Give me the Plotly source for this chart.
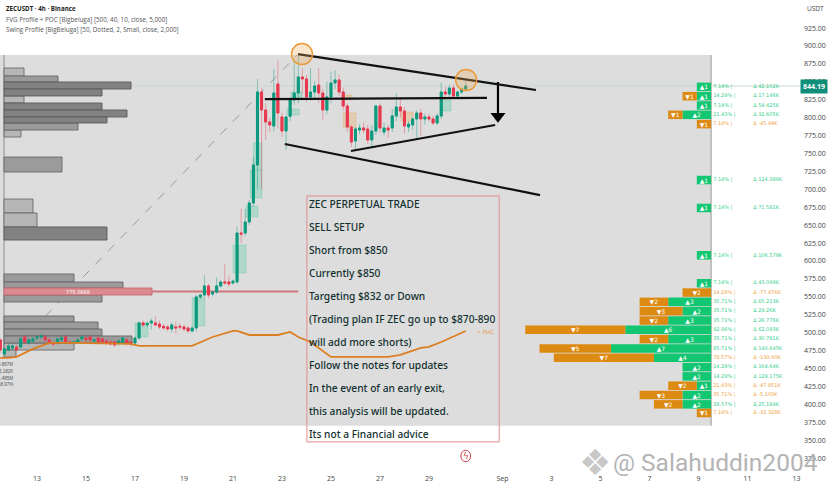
import plotly.graph_objects as go

# ---------- candles (index = 4h bars from 11 Aug 12:00) ----------
opens = [489.9,470.3,476,478.7,480,480,494,485.7,488.5,492.6,494,494,489.9,485.7,485.7,489.9,494,487,485.7,487,491.3,492.6,494,488.5,492.6,491.3,488.5,487,487,485.7,485.7,489.9,487,485.7,492.6,513.6,511,513.6,513.6,512,509,508,505.2,508,509,508,506.6,502.4,506.6,549.9,552.6,565.2,554,556.8,565.2,570.8,570.8,569.4,570.8,639.1,639.1,654.5,681,734,835.8,810.7,794,788.4,847,801,781.4,802,824.7,834.4,856.8,854,828.9,835.8,845.6,834.4,810.7,828.9,848.4,852.6,835.8,816.3,787,767.5,782.8,785.6,784.2,768.9,781.4,816.3,780,785.6,785.6,802.4,814.9,809.3,787,789.8,798.2,806.5,798.2,801,798.2,792.6,802.4,835.8,833,841.4,830.3,835.8,840]
highs = [492,479,484,484,483,494,497,493,494,497,499,498,493,488,493,495,496,489,489,492,497,496,497,492,495,494,491,489,490,490,494,493,489,494,516,517,516,520,523,517,512,511,514,516,513,511,509,509,553,554,580,568,558,577,573,596,580,574,648,673,673,685,745,854,842,820,800,868,880,807,801,826,880,887,869,860,869,851,869,840,850,864,866,860,842,820,790,787,791,793,790,790,818,820,793,790,812,834,828,815,795,800,810,812,806,806,803,806,849,843,846,846,838,842,852]
lows = [472,468,474,476,474,478,485,483,486,490,491,487,483,481,483,487,485,483,483,485,488,486,486,486,485,485,483,482,480,482,483,482,480,483,490,508,508,504,509,505,504,502,500,499,504,502,500,500,502,547,549,548,551,554,563,567,564,567,568,625,635,650,676,700,700,769,780,781,785,773,755,795,818,820,833,821.9,824,827,821,796.8,805,820,840,830,810,780,759,755,777,778,763,758,776,779,775,772,780,795,800,778,780,783,772,775,790,795,790,790,798,828,828,826,826,833,838]
closes = [475.9,477.3,481.5,481.5,476,491.3,487,489.9,491.3,494,495.4,489.9,485.7,484.3,491.3,492.6,487,485.7,487,489.9,494,489.9,489.9,489.9,487,487,485.7,484.3,482.9,488.5,492.6,485.7,484.3,492.6,513.6,510.8,513,516.3,510.8,508,506.6,505.2,510.8,506.6,508,505.2,502.4,506.6,549.9,552.6,565.2,552.6,556.8,565.2,570.8,569.4,568,572,639.1,637.7,654.5,681,734,835.8,810.7,794,789.8,834.4,806.5,781.4,801,824.7,834.4,856.8,854,828.9,835.8,844.2,834.4,810.7,828.9,848.4,852.6,835.8,816.3,787,766.1,784.2,785.6,782.8,768.9,781.4,816.3,785.6,785.6,782.8,802.4,814.9,809.3,788.4,791.2,798.2,806.5,798.2,801,798.2,792.6,802.4,835.8,833,841.4,830.3,835.8,840,844.19]
last_price = 844.19

# ---------- axis labels ----------
date_bars = [9,21,33,45,57,69,81,93,105,123,135,147,159,171,183,195]
date_labels = ["13","15","17","19","21","23","25","27","29","Sep","3","5","7","9","11","13"]
price_ticks = list(range(325, 950, 25))

# ---------- right hand profile ----------
row_price = [843,830,817,804,791,713,674,608,569,556,543,530,517,504,491,478,465,452,439,426,413,400,388]
row_up =    [1,1,1,2,0,1,1,1,1,0,3,2,3,6,3,7,4,2,2,1,2,2,0]
row_down =  [0,1,0,1,1,0,0,0,0,2,2,3,2,7,2,5,7,0,0,2,3,2,1]
row_pct = ["7.14%","14.29%","7.14%","21.43%","7.14%","7.14%","7.14%","7.14%","7.14%","14.29%","35.71%","35.71%","35.71%","92.86%","35.71%","85.71%","78.57%","14.29%","14.29%","21.43%","35.71%","28.57%","7.14%"]
row_delta = ["42.102K","17.146K","54.425K","32.605K","-45.49K","124.386K","71.581K","106.578K","43.099K","-77.476K","65.213K","29.26K","26.776K","62.093K","30.781K","140.645K","-139.00K","164.64K","129.175K","-47.851K","-5.103K","25.184K","-32.328K"]

# ---------- left hand profile: top price, bottom price, volume ----------
dark_top = [849.8,840,820.5,810.7,800.9,647.5]
dark_bot = [840,830.3,810.7,800.9,792.6,629.3]
dark_vol = [127,98,98,123,103,103]
mid_top = [858.1,792.6,745.1,581.9,570.7,552.6,523.3,514.9,505.1,495.4]
mid_bot = [849.8,782.8,724.2,570.7,562.3,542.8,514.9,505.1,495.4,485.6]
mid_vol = [54,74,58,70,119,98,70,94,98,128]
light_top = [869.3,830.2,782.8,686.5,667,485.6,475.8]
light_bot = [858.1,820.5,773,667,647.5,475.8,466.1]
light_vol = [20,20,17,29,33,70,12]
poc_top = [562.3]
poc_bot = [552.6]
poc_vol = [148]

# ---------- PoC line ----------
poc_bars = [0,2,4,6,8,12,18,32,34,47,52,57,58,61,68,71,73,76,81,95,98,103,105,108,114]
poc_line = [464.8,464.8,466.2,471.7,477.3,485.7,485.7,484.3,481.5,481.5,494,502.4,502.4,496.8,496.8,501,494,487,466.2,466.2,468.9,478.7,480.1,487,502.4]

# ---------- value-gap boxes ----------
gap_up_start = [33,47,57,60.2,61.2,62,70.2,71.2,108]
gap_up_end = [36.2,50.1,60.2,63.1,64.1,64.1,73.2,73.9,110.4]
gap_up_low = [494,509.4,583.3,661.4,688,727,803.7,827.5,809.3]
gap_up_high = [513.6,548.5,622.4,676.8,727,764.7,812.1,835.8,824.7]
gap_dn_start = [83.7,84,98.2]
gap_dn_end = [86.2,87.1,101.1]
gap_dn_low = [824.7,787,795.4]
gap_dn_high = [831.6,806.5,807.9]

# ---------- drawn trend lines: bar, price, bar, price ----------
trend_lines = [(72.9,888.8,131.2,838.6),(64.8,826,119.2,827.5),(69.7,763.3,132.2,692),(85.9,753.5,121.2,789.8)]

note_lines = ["ZEC PERPETUAL TRADE","SELL SETUP","Short from $850","Currently $850","Targeting $832 or Down",
              "(Trading plan IF ZEC go up to $870-890","will add more shorts)","Follow the notes for updates",
              "In the event of an early exit,","this analysis will be updated.","Its not a Financial advice"]
note_prices = [678.2,646.1,614,581.9,549.8,517.7,485.6,453.5,421.4,389.3,357.2]

legend_lines = ["ZECUSDT · 4h · Binance","FVG Profile + POC [Bigbeluga] [500, 40, 10, close, 5,000]","Swing Profile [BigBeluga] [50, Dotted, 2, Small, close, 2,000]"]
swing_stats = ["4.867M","5.182K","1.485M","58.97%"]

# ---------- scales ----------
PX = 4.083            # pixels per bar
UNIT = 14.3 / PX      # bars per profile count
RIGHT_EDGE = 174.1    # bar index of the right profile baseline
LEFT_EDGE = 0.92      # bar index of the left profile baseline
GREEN, RED = "#0d9a7e", "#e8394f"
bars_x = list(range(len(opens)))

fig = go.Figure()

def left_profile(tops, bots, vols, fill, line, name):
    fig.add_trace(go.Bar(y=[(a+b)/2 for a, b in zip(tops, bots)], width=[a-b for a, b in zip(tops, bots)],
                         x=[v/PX for v in vols], base=LEFT_EDGE, orientation="h", name=name,
                         marker=dict(color=fill, line=dict(color=line, width=0.9)), hoverinfo="skip"))

left_profile(light_top, light_bot, light_vol, "#b6b6b6", "#6a6a6a", "low")
left_profile(mid_top, mid_bot, mid_vol, "#9b9b9b", "#666666", "mid")
left_profile(dark_top, dark_bot, dark_vol, "#828282", "#5a5a5a", "high")
left_profile(poc_top, poc_bot, poc_vol, "#d98b8f", "#c9686e", "poc")

fig.add_trace(go.Bar(y=row_price, width=11.9, x=[-c*UNIT for c in row_up], base=RIGHT_EDGE, orientation="h",
                     marker=dict(color="#12c672", line=dict(width=0)), name="up",
                     text=["▲%d" % c if c else "" for c in row_up], textposition="inside", insidetextanchor="middle",
                     textangle=0, constraintext="none", textfont=dict(size=6, color="white", family="DejaVu Sans")))
fig.add_trace(go.Bar(y=row_price, width=11.9, x=[-c*UNIT for c in row_down],
                     base=[RIGHT_EDGE-u*UNIT for u in row_up], orientation="h",
                     marker=dict(color="#dd8a12", line=dict(width=0)), name="down",
                     text=["▼%d" % c if c else "" for c in row_down], textposition="inside", insidetextanchor="middle",
                     textangle=0, constraintext="none", textfont=dict(size=6, color="white", family="DejaVu Sans")))

# wicks (pale) first, then solid bodies on top, both from the same OHLC lists
fig.add_trace(go.Candlestick(x=bars_x, open=opens, high=highs, low=lows, close=closes, name="wicks",
                             increasing=dict(line=dict(color="rgba(13,154,126,0.55)", width=0.8), fillcolor=GREEN),
                             decreasing=dict(line=dict(color="rgba(232,57,79,0.5)", width=0.8), fillcolor=RED),
                             whiskerwidth=0))
fig.add_trace(go.Candlestick(x=bars_x, open=opens, close=closes,
                             high=[max(o, c) for o, c in zip(opens, closes)],
                             low=[min(o, c) for o, c in zip(opens, closes)], name="ZECUSDT",
                             increasing=dict(line=dict(color=GREEN, width=1), fillcolor=GREEN),
                             decreasing=dict(line=dict(color=RED, width=1), fillcolor=RED),
                             whiskerwidth=0))

fig.add_trace(go.Scatter(x=poc_bars, y=poc_line, mode="lines", line=dict(color="#dc7f22", width=1.8), name="PoC"))

row_colors = ["#ef9f45" if d.startswith("-") else "#35cf8c" for d in row_delta]
fig.add_trace(go.Scatter(x=[174.6]*len(row_price), y=row_price, mode="text", textposition="middle right",
                         text=[p+" |" for p in row_pct], textfont=dict(size=5, color=row_colors, family="DejaVu Sans"), cliponaxis=False))
fig.add_trace(go.Scatter(x=[184.4]*len(row_price), y=row_price, mode="text", textposition="middle right",
                         text=["Δ "+d for d in row_delta], textfont=dict(size=5, color=row_colors, family="DejaVu Sans"), cliponaxis=False))

fig.add_trace(go.Scatter(x=[75.6]*len(note_lines), y=note_prices, mode="text", textposition="middle right",
                         text=note_lines, textfont=dict(size=10.2, color="#12302f", family="Noto Sans", weight=500)))

# arrow
fig.add_trace(go.Scatter(x=[121.9, 121.9], y=[849.8, 806], mode="lines", line=dict(color="black", width=2.2)))
fig.add_trace(go.Scatter(x=[121.9], y=[802], mode="markers", marker=dict(symbol="triangle-down", size=13, color="black")))

shapes = [
    dict(type="rect", layer="below", x0=-0.06, x1=174.1, y0=370, y1=887.4, fillcolor="#dddddd", line=dict(width=0)),
    dict(type="line", layer="below", x0=LEFT_EDGE, x1=LEFT_EDGE, y0=470, y1=887.4, line=dict(color="#a6a6a6", width=1.5)),
    dict(type="line", layer="below", x0=174.1, x1=174.1, y0=370, y1=887.4, line=dict(color="#9a9a9a", width=1)),
    dict(type="line", layer="below", x0=-0.06, x1=195.87, y0=last_price, y1=last_price, line=dict(color="#c9d8d3", width=1)),
    dict(type="line", layer="below", x0=1.9, x1=72.7, y0=468.9, y1=887.4, line=dict(color="#9a9a9a", width=1, dash="dash")),
    dict(type="line", layer="below", x0=37.2, x1=73, y0=557.4, y1=557.4, line=dict(color="#d0787c", width=2)),
]
for a, b, l, h in zip(gap_up_start, gap_up_end, gap_up_low, gap_up_high):
    shapes.append(dict(type="rect", layer="below", x0=a, x1=b, y0=l, y1=h, fillcolor="rgba(40,205,150,0.25)", line=dict(color="rgba(40,190,140,0.3)", width=0.7)))
for a, b, l, h in zip(gap_dn_start, gap_dn_end, gap_dn_low, gap_dn_high):
    shapes.append(dict(type="rect", layer="below", x0=a, x1=b, y0=l, y1=h, fillcolor="rgba(240,165,80,0.3)", line=dict(color="rgba(235,150,60,0.4)", width=0.7)))
for x0, y0, x1, y1 in trend_lines:
    shapes.append(dict(type="line", x0=x0, y0=y0, x1=x1, y1=y1, line=dict(color="#111111", width=2.2)))
for cx, cy in [(73.9, 888.8), (114.1, 852.6)]:
    shapes.append(dict(type="circle", x0=cx-2.57, x1=cx+2.57, y0=cy-14.6, y1=cy+14.6,
                       fillcolor="rgba(240,170,90,0.3)", line=dict(color="#ea9a34", width=1.4)))
shapes.append(dict(type="rect", x0=75.1, x1=122.2, y0=347.6, y1=690.8, line=dict(color="#e08d8d", width=1)))
shapes.append(dict(type="circle", x0=112.8, x1=115.2, y0=320, y1=336, line=dict(color="#c9464c", width=1)))

H = 470.0
anns = []
for txt, yy, bold in zip(legend_lines, [9, 19, 29], [True, False, False]):
    anns.append(dict(xref="paper", yref="paper", x=4/800, y=1-yy/H, xanchor="left", yanchor="middle", showarrow=False,
                     text="<b>%s</b>" % txt if bold else txt,
                     font=dict(size=6.2 if bold else 6.3, color="#222222" if bold else "#555555", family="Open Sans")))
anns.append(dict(xref="paper", yref="paper", x=815/800, y=1-9/H, xanchor="center", yanchor="middle", showarrow=False,
                 text="USDT", font=dict(size=6.5, color="#444444", family="Open Sans")))
anns.append(dict(xref="paper", yref="paper", x=813.5/800, y=1-86.5/H, xanchor="center", yanchor="middle", showarrow=False,
                 text="<b>844.19</b>", bgcolor="#0f8f7a", borderpad=2, font=dict(size=7, color="white", family="Open Sans")))
anns.append(dict(x=116.3, y=501, xanchor="left", yanchor="middle", showarrow=False, text="« PoC",
                 font=dict(size=6, color="#e89a4a", family="DejaVu Sans")))
anns.append(dict(x=19, y=557.4, xanchor="center", yanchor="middle", showarrow=False, text="775.0868",
                 font=dict(size=5, color="white", family="DejaVu Sans")))
for s, yy in zip(swing_stats, [365, 372, 379, 385]):
    anns.append(dict(x=3.6, y=900-(yy-46)*1.395, xanchor="right", yanchor="middle", showarrow=False, text=s,
                     font=dict(size=4.5, color="#555555", family="Liberation Sans")))
anns.append(dict(x=114, y=328, xanchor="center", yanchor="middle", showarrow=False, text="ϟ",
                 font=dict(size=9, color="#c9464c", family="DejaVu Sans")))
anns.append(dict(x=145.7, y=318.5, xanchor="center", yanchor="middle", showarrow=False, text="❖",
                 font=dict(size=36, color="#c8c8c8", family="DejaVu Sans")))
anns.append(dict(x=149.6, y=318.5, xanchor="left", yanchor="middle", showarrow=False, text="@ Salahuddin2004",
                 font=dict(size=24.5, color="#b4b4b4", family="Roboto")))

fig.update_layout(
    width=829, height=489, autosize=False,
    margin=dict(l=0, r=29, t=0, b=19),
    paper_bgcolor="white", plot_bgcolor="white",
    barmode="overlay", showlegend=False, shapes=shapes, annotations=anns,
    xaxis=dict(range=[-0.06, 195.87], tickmode="array", tickvals=date_bars, ticktext=date_labels,
               showgrid=False, zeroline=False, showline=False, ticks="", rangeslider=dict(visible=False),
               ticklabelstandoff=3, tickfont=dict(size=7, color="#444444", family="Open Sans")),
    yaxis=dict(range=[308.4, 964.2], side="right", tickmode="array", tickvals=price_ticks,
               ticktext=["%.2f" % p for p in price_ticks],
               showgrid=False, zeroline=False, showline=False, ticks="", ticklabelstandoff=3,
               tickfont=dict(size=7, color="#444444", family="Open Sans")),
)
fig.write_html("out.html", config=dict(displayModeBar=False),
               post_script="document.body.style.margin='0';document.documentElement.style.overflow='hidden';")
